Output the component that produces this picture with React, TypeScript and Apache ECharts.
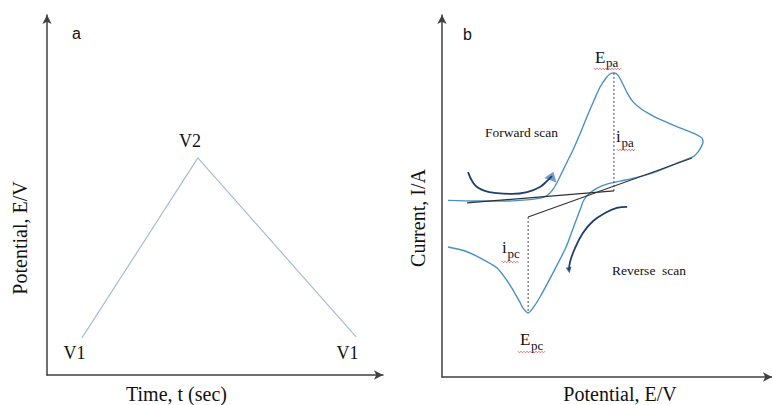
import React, { useEffect, useRef } from "react";
import * as echarts from "echarts";

// Panel a: triangular potential waveform (arbitrary units)
const waveTime = [1.04, 4.49, 9.2];
const wavePotential = [1.03, 6.03, 1.06];
const waveLabels = ["V1", "V2", "V1"];

// Panel b: cyclic voltammogram (arbitrary units)
const cvPotential = [
  0.18, 1.0, 1.97, 2.67, 2.97, 3.18, 3.33, 3.48, 3.64, 3.79, 3.97, 4.18, 4.39, 4.61, 4.79, 4.97, 5.09, 5.21,
  5.33, 5.45, 5.61, 5.79, 6.0, 6.24, 6.52, 6.85, 7.21, 7.52, 7.73, 7.88, 7.91, 7.85, 7.76, 7.64,
  7.21, 6.76, 6.3, 5.85, 5.39, 5.0, 4.7, 4.48, 4.3, 4.18, 4.03, 3.76, 3.36, 2.97, 2.76, 2.61,
  2.45, 2.36, 2.06, 1.67, 1.15, 0.7, 0.18,
];
const cvCurrent = [
  4.88, 4.86, 4.86, 4.9, 4.94, 5.01, 5.14, 5.36, 5.66, 5.94, 6.27, 6.71, 7.18, 7.65, 8.01, 8.26, 8.37, 8.4,
  8.34, 8.15, 7.85, 7.6, 7.43, 7.29, 7.15, 7.02, 6.88, 6.77, 6.69, 6.6, 6.49, 6.35, 6.22, 6.1,
  5.94, 5.77, 5.61, 5.5, 5.41, 5.33, 5.22, 5.08, 4.89, 4.61, 4.25, 3.59, 2.87, 2.21, 1.91, 1.77,
  1.91, 2.07, 2.54, 3.01, 3.29, 3.48, 3.59,
];

// Baselines used to read the peak currents
const anodicBaseX = [0.76, 5.21];
const anodicBaseY = [4.81, 5.14];
const cathodicBaseX = [2.61, 7.58];
const cathodicBaseY = [4.42, 6.05];
// Peak-current drops (dotted)
const ipaX = [5.21, 5.21];
const ipaY = [8.4, 5.14];
const ipcX = [2.61, 2.61];
const ipcY = [4.42, 1.77];

// Scan-direction arrows
const fwdArrowX = [0.79, 1.0, 1.3, 1.67, 2.12, 2.58, 2.97, 3.21, 3.33];
const fwdArrowY = [5.66, 5.3, 5.14, 5.08, 5.06, 5.11, 5.25, 5.44, 5.55];
const revArrowX = [5.61, 5.3, 4.94, 4.58, 4.27, 4.03, 3.88, 3.85];
const revArrowY = [4.7, 4.67, 4.53, 4.31, 3.98, 3.56, 3.18, 2.95];

const zip = (a: number[], b: number[]) => a.map((v, i) => [v, b[i]]);

const SERIF = '"Liberation Serif", "Times New Roman", serif';
const SANS = '"Liberation Sans", Arial, sans-serif';

function txt(text: string, x: number, y: number, size: number, opts: any = {}) {
  return {
    type: "text",
    x,
    y,
    rotation: opts.rotation || 0,
    silent: true,
    style: {
      text,
      font: `${size}px ${opts.font || SERIF}`,
      fill: "#111",
      align: opts.align || "left",
      verticalAlign: "middle",
    },
  };
}

function squiggle(x0: number, x1: number, y: number) {
  const pts: number[][] = [];
  let up = true;
  for (let x = x0; x <= x1; x += 1.5) {
    pts.push([x, up ? y - 0.8 : y + 0.8]);
    up = !up;
  }
  return {
    type: "polyline",
    silent: true,
    shape: { points: pts },
    style: { stroke: "#e05050", lineWidth: 0.8, fill: null },
  };
}

const axisCommon = (color = "#404040") => ({
  type: "value",
  min: 0,
  max: 10,
  axisLine: {
    show: true,
    onZero: false,
    symbol: ["none", "arrow"],
    symbolSize: [7, 9],
    lineStyle: { color, width: 1.5 },
  },
  axisTick: { show: false },
  axisLabel: { show: false },
  splitLine: { show: false },
});

export default function App() {
  const ref = useRef<HTMLDivElement>(null);
  useEffect(() => {
    if (!ref.current) return;
    const chart = echarts.init(ref.current, null, { renderer: "svg" });
    const option: any = {
      animation: false,
      backgroundColor: "#ffffff",
      grid: [
        { left: 47, top: 15, width: 336, height: 360 },
        { left: 442, top: 15, width: 330, height: 362 },
      ],
      xAxis: [
        { ...axisCommon(), gridIndex: 0 },
        { ...axisCommon(), gridIndex: 1 },
      ],
      yAxis: [
        { ...axisCommon(), gridIndex: 0 },
        { ...axisCommon(), gridIndex: 1 },
      ],
      series: [
        {
          type: "line",
          xAxisIndex: 0,
          yAxisIndex: 0,
          data: zip(waveTime, wavePotential),
          symbol: "none",
          lineStyle: { color: "#a3bdd8", width: 1.2 },
        },
        {
          type: "line",
          xAxisIndex: 1,
          yAxisIndex: 1,
          data: zip(cvPotential, cvCurrent),
          symbol: "none",
          smooth: 0.25,
          lineStyle: { color: "#4a90c8", width: 1.4 },
        },
        {
          type: "line",
          xAxisIndex: 1,
          yAxisIndex: 1,
          data: zip(anodicBaseX, anodicBaseY),
          symbol: "none",
          lineStyle: { color: "#333", width: 1.2 },
        },
        {
          type: "line",
          xAxisIndex: 1,
          yAxisIndex: 1,
          data: zip(cathodicBaseX, cathodicBaseY),
          symbol: "none",
          lineStyle: { color: "#333", width: 1.2 },
        },
        {
          type: "line",
          xAxisIndex: 1,
          yAxisIndex: 1,
          data: zip(ipaX, ipaY),
          symbol: "none",
          lineStyle: { color: "#333", width: 0.9, type: [2, 2] },
        },
        {
          type: "line",
          xAxisIndex: 1,
          yAxisIndex: 1,
          data: zip(ipcX, ipcY),
          symbol: "none",
          lineStyle: { color: "#333", width: 0.9, type: [2, 2] },
        },
        {
          type: "line",
          xAxisIndex: 1,
          yAxisIndex: 1,
          data: zip(fwdArrowX, fwdArrowY),
          symbol: "none",
          smooth: 0.4,
          lineStyle: { color: "#203f6e", width: 1.8 },
        },
        {
          type: "line",
          xAxisIndex: 1,
          yAxisIndex: 1,
          data: zip(revArrowX, revArrowY),
          symbol: "none",
          smooth: 0.4,
          lineStyle: { color: "#203f6e", width: 1.8 },
        },
        {
          type: "scatter",
          xAxisIndex: 1,
          yAxisIndex: 1,
          data: [[fwdArrowX[fwdArrowX.length - 1], fwdArrowY[fwdArrowY.length - 1]]],
          symbol: "triangle",
          symbolSize: [13, 9],
          symbolRotate: -20,
          itemStyle: { color: "#4f7fbe" },
        },
        {
          type: "scatter",
          xAxisIndex: 1,
          yAxisIndex: 1,
          data: [[revArrowX[revArrowX.length - 1], revArrowY[revArrowY.length - 1]]],
          symbol: "triangle",
          symbolSize: [6, 6],
          symbolRotate: 190,
          itemStyle: { color: "#203f6e" },
        },
      ],
      graphic: [
        txt("a", 72, 33, 16, { font: SANS }),
        txt("b", 463, 34, 16, { font: SANS }),
        txt(waveLabels[1], 190, 141, 18, { align: "center" }),
        txt(waveLabels[0], 74.5, 353, 18, { align: "center" }),
        txt(waveLabels[2], 347.5, 353, 18, { align: "center" }),
        txt("Time, t (sec)", 176.5, 394, 20, { align: "center" }),
        txt("Potential, E/V", 20, 238, 20, { align: "center", rotation: Math.PI / 2 }),
        txt("Current, I/A", 418, 218, 20, { align: "center", rotation: Math.PI / 2 }),
        txt("Potential, E/V", 620, 394, 20, { align: "center" }),
        txt("Forward scan", 521.5, 132, 13.5, { align: "center" }),
        txt("Reverse  scan", 649, 270, 13.5, { align: "center" }),
        txt("E", 595, 57, 17),
        txt("pa", 606, 62.5, 13),
        txt("i", 616, 136, 17),
        txt("pa", 621.5, 142.5, 13),
        txt("i", 502, 247, 17),
        txt("pc", 507.5, 253.5, 13),
        txt("E", 520, 339, 17),
        txt("pc", 531, 345.5, 13),
        squiggle(594, 621, 69),
        squiggle(617, 635, 150),
        squiggle(502, 519, 262),
        squiggle(518, 545, 352),
      ],
    };
    chart.setOption(option);
    return () => chart.dispose();
  }, []);
  return (
    <div
      ref={ref}
      style={{ position: "absolute", left: 0, top: 0, width: 772, height: 405, background: "#fff" }}
    />
  );
}
